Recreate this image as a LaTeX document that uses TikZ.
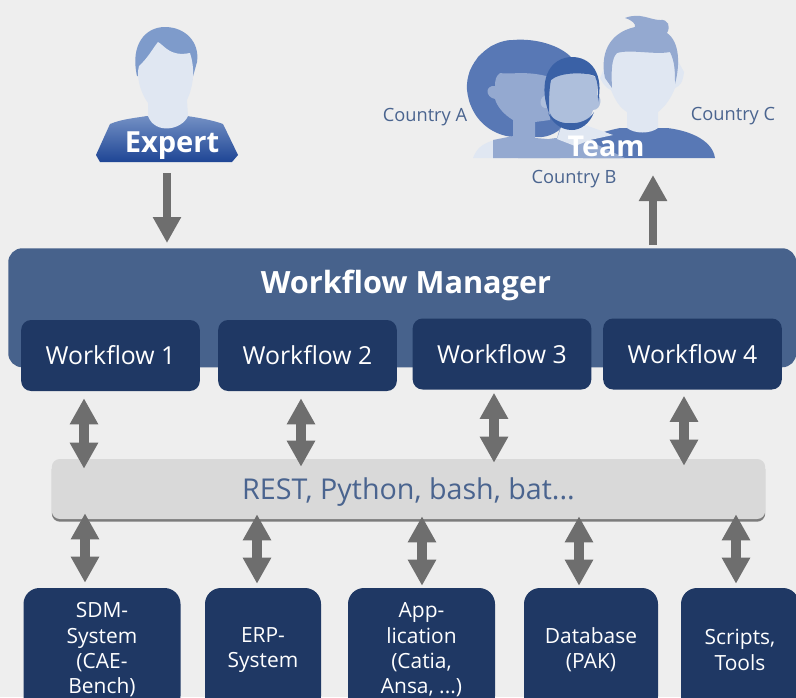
\documentclass[tikz,border=0pt]{standalone}
\usepackage{fontspec}
\setmainfont{Open Sans}
\usepackage{tikz}
\usetikzlibrary{arrows.meta,shadows}
\definecolor{pagegray}{HTML}{EEEEEE}
\definecolor{managerblue}{HTML}{47628C}
\definecolor{boxblue}{HTML}{1F3864}
\definecolor{arrowgray}{HTML}{6E6E6E}
\definecolor{restgray}{HTML}{D9D9D9}
\definecolor{labelblue}{HTML}{4A648F}
\definecolor{hairblue}{HTML}{7E9BCB}
\definecolor{facelight}{HTML}{E0E7F2}
\definecolor{shirttop}{HTML}{7390C4}
\definecolor{shirtbottom}{HTML}{1E4595}
\definecolor{teamblue}{HTML}{5878B5}
\definecolor{teammid}{HTML}{94A9D0}
\definecolor{teampale}{HTML}{AEBFDC}
\definecolor{teamdark}{HTML}{3A61A6}
\tikzset{
  wfbox/.style={fill=boxblue,rounded corners=7.5pt,text=white,minimum width=134pt,minimum height=53.25pt,font=\fontsize{18.6}{18.6}\selectfont},
  toolbox/.style={fill=boxblue,rounded corners=12pt,text=white,align=center,minimum height=93pt,inner sep=0pt,font=\fontsize{15.7}{19}\selectfont},
  blockboth/.style={draw=arrowgray,line width=7.5pt,{Triangle[width=20pt,length=19.5pt]}-{Triangle[width=20pt,length=19.5pt]}},
  blockone/.style={draw=arrowgray,line width=6pt,-{Triangle[width=20pt,length=19.5pt]}},
  country/.style={text=labelblue,font=\fontsize{13.7}{13.7}\selectfont},
}
\begin{document}
\begin{tikzpicture}[x=0.75pt,y=-0.75pt]
\useasboundingbox (0,0) rectangle (796,697);
\fill[pagegray] (0,0) rectangle (796,697);
% expert
\shade[top color=shirttop,bottom color=shirtbottom] (96,155) -- (110,124) .. controls (122,119) and (135,118) .. (147,116) -- (187,116) .. controls (200,118) and (212,120) .. (223,124) -- (238,155) -- (232,162) -- (100,162) -- cycle;
\fill[hairblue] (137,76) .. controls (130,45) and (145,27) .. (165,27) .. controls (185,27) and (200,42) .. (197,62) -- (192,80) -- cycle;
\fill[facelight] (148,116) -- (148,103) .. controls (140,92) and (136,76) .. (139,66) .. controls (148,58) and (153,48) .. (158,42) .. controls (165,46) and (170,57) .. (190,53) .. controls (195,68) and (194,85) .. (187,100) -- (188,116) .. controls (182,130) and (155,135) .. (148,116) -- cycle;
\node[white,font=\bfseries\fontsize{21.8}{21.8}\selectfont] (expertlabel) at (172,146) {Expert};
% team
\fill[teamblue] (467,90) .. controls (465,62) and (490,40) .. (513,40) .. controls (535,38) and (560,45) .. (572,58) -- (565,125) .. controls (555,135) and (545,138) .. (535,137) -- (513,137) .. controls (490,135) and (470,118) .. (467,90) -- cycle;
\foreach \ang in {100,120,...,280}{
  \fill[teamblue] (515+42*cos \ang,87-41*sin \ang) circle[radius=6];
}
\fill[facelight] (473,158) .. controls (477,147) and (484,143) .. (495,140) -- (510,140) -- (510,158) -- cycle;
\fill[teammid] (493,158) -- (493,140) -- (513,136) -- (513,120) .. controls (503,114) and (497,106) .. (495,99) .. controls (485,97) and (485,85) .. (495,86) .. controls (495,80) and (496,76) .. (500,73) .. controls (510,75) and (525,70) .. (550,77) -- (550,120) -- (535,122) -- (535,138) -- (560,140) -- (560,158) -- cycle;
\fill[teamblue] (583,158) -- (583,140) .. controls (595,134) and (610,130) .. (620,128) -- (667,128) .. controls (685,130) and (712,138) .. (715,158) -- cycle;
\fill[facelight] (600,78) .. controls (603,84) and (606,88) .. (611,90) .. controls (615,100) and (620,108) .. (627,112) -- (627,128) .. controls (635,134) and (650,134) .. (658,128) -- (658,112) .. controls (666,106) and (672,96) .. (675,88) .. controls (680,86) and (683,82) .. (684,72) -- (672,50) -- (612,50) -- cycle;
\fill[teammid] (605,78) .. controls (600,55) and (608,33) .. (635,27) .. controls (636,24) and (632,20) .. (625,18) .. controls (640,12) and (650,20) .. (660,20) .. controls (668,19) and (671,26) .. (667,33) .. controls (680,42) and (680,65) .. (675,84) .. controls (675,72) and (675,62) .. (670,52) .. controls (655,55) and (630,49) .. (617,53) .. controls (612,58) and (611,68) .. (612,88) -- cycle;
\fill[teammid] (518,158) .. controls (522,147) and (540,139) .. (557,138) -- (560,128) -- (583,128) -- (583,138) -- (625,158) -- cycle;
\fill[facelight] (557,139) -- (562,125) -- (585,125) -- (613,135) -- (590,140) -- (575,146) -- cycle;
\fill[teampale] (548,95) .. controls (538,95) and (538,110) .. (548,108) .. controls (552,120) and (560,127) .. (571,128) .. controls (582,127) and (590,120) .. (593,110) .. controls (602,110) and (602,95) .. (597,95) -- (598,78) .. controls (580,70) and (560,70) .. (547,80) -- cycle;
\fill[teamdark] (549,113) .. controls (540,90) and (543,60) .. (570,57) .. controls (592,56) and (604,75) .. (598,102) .. controls (598,90) and (598,82) .. (595,76) .. controls (585,72) and (560,72) .. (551,80) .. controls (549,90) and (549,100) .. (549,113) -- cycle;
\fill[teamdark] (548,113) .. controls (555,122) and (565,124) .. (571,123) .. controls (578,124) and (590,120) .. (594,112) .. controls (590,124) and (580,130) .. (572,130) .. controls (560,130) and (552,122) .. (548,113) -- cycle;
\node[white,font=\bfseries\fontsize{21.5}{21.5}\selectfont] (teamlabel) at (606,146) {Team};
\node[country] (countrya) at (425,117) {Country A};
\node[country] (countryb) at (574,179) {Country B};
\node[country] (countryc) at (733,116) {Country C};
% manager
\node[fill=managerblue,rounded corners=10.5pt,minimum width=591pt,minimum height=89.25pt,inner sep=0pt,anchor=north west] (manager) at (8,248) {};
\node[white,font=\bfseries\fontsize{23}{23}\selectfont] (managerlabel) at (406,285) {Workflow Manager};
\node[wfbox] (wfa) at (110.5,355.5) {Workflow 1};
\node[wfbox] (wfb) at (307.5,355.5) {Workflow 2};
\node[wfbox] (wfc) at (502,354) {Workflow 3};
\node[wfbox] (wfd) at (692.5,354) {Workflow 4};
% middle bar
\node[fill=restgray,rounded corners=6pt,minimum width=535pt,minimum height=45pt,inner sep=0pt,drop shadow={shadow xshift=0pt,shadow yshift=-2pt,fill=black!70,opacity=0.7}] (rest) at (408.5,489) {};
\node[text=labelblue,font=\fontsize{21.5}{21.5}\selectfont] (restlabel) at (408.5,492) {REST, Python, bash, bat...};
% tools
\node[toolbox,minimum width=117.75pt] (sdm) at (102,650) {SDM-\\System\\(CAE-\\Bench)};
\node[toolbox,minimum width=87pt] (erp) at (263,650) {ERP-\\System};
\node[toolbox,minimum width=110.25pt] (app) at (421.5,650) {App-\\lication\\(Catia,\\Ansa, ...)};
\node[toolbox,minimum width=100.5pt] (db) at (591,650) {Database\\(PAK)};
\node[toolbox,minimum width=88.5pt] (scripts) at (740,650) {Scripts,\\Tools};
% arrows
\coordinate (expertfoot) at (167,173);
\coordinate (teamfoot) at (653,175);
\draw[blockone,shorten >=3.75pt] (expertfoot) -- (expertfoot |- manager.north);
\draw[blockone,shorten <=2.25pt] (teamfoot |- manager.north) -- (teamfoot);
\foreach \nm/\ax/\sa/\sb in {wfa/84/7/-10,wfb/301/7/-8,wfc/494/3/-4,wfd/684/6/-7}{
  \coordinate (\nm x) at (\ax,0);
  \draw[blockboth,shorten <=\sa*0.75pt,shorten >=\sb*0.75pt] (\nm.south -| \nm x) -- (rest.north -| \nm x);
}
\foreach \nm/\ax/\sa/\sb in {sdm/85/-6/5,erp/257/-5/4,app/422/-3/2,db/579/-3/2,scripts/736/-5/4}{
  \coordinate (\nm x) at (\ax,0);
  \draw[blockboth,shorten <=\sa*0.75pt,shorten >=\sb*0.75pt] (rest.south -| \nm x) -- (\nm.north -| \nm x);
}
\end{tikzpicture}
\end{document}
